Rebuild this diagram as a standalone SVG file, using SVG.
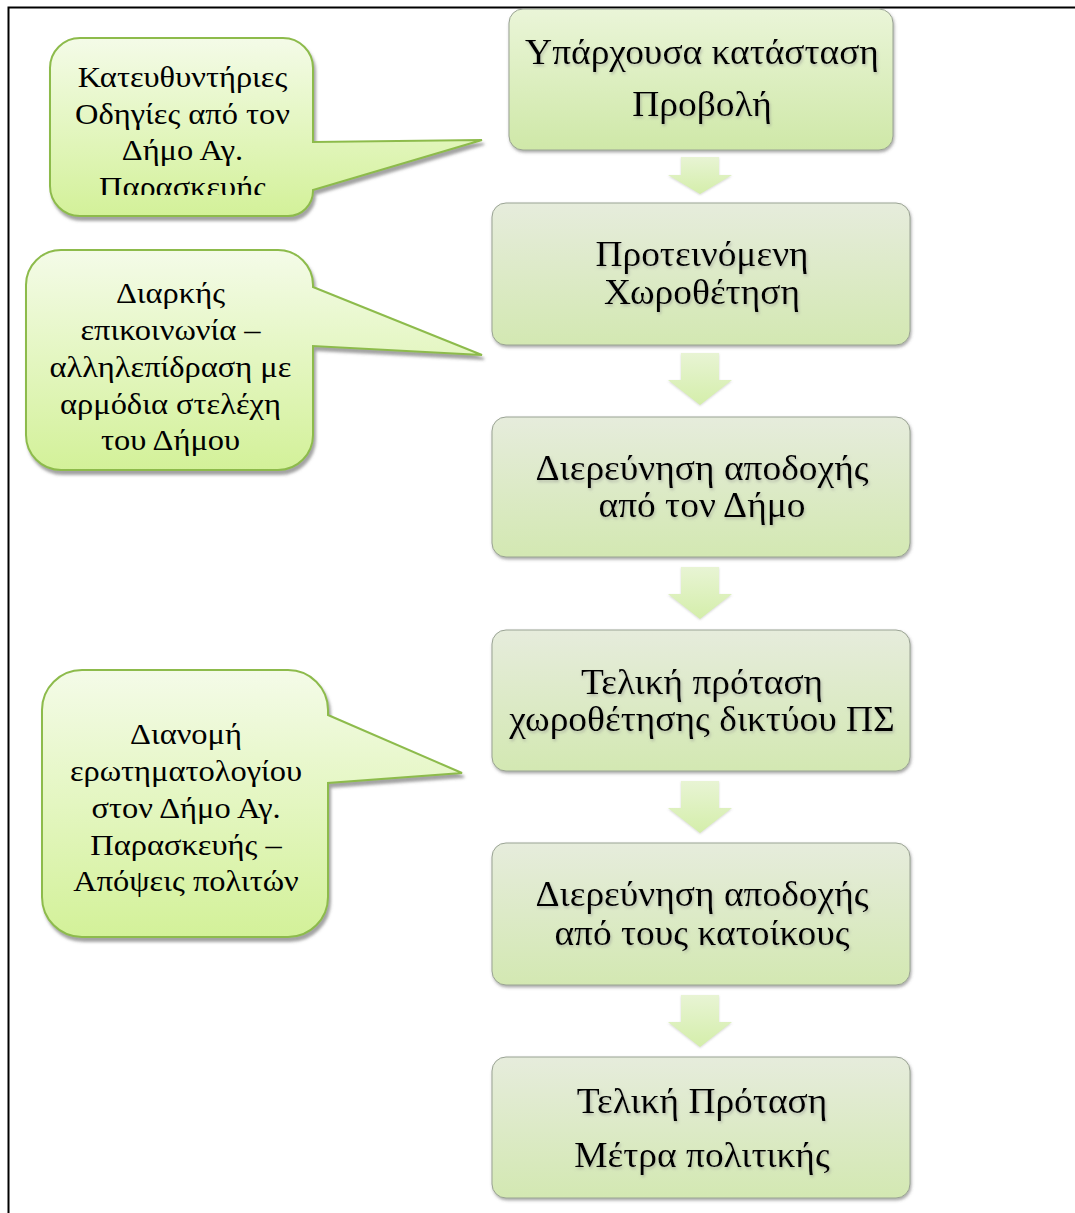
<svg xmlns="http://www.w3.org/2000/svg" width="1075" height="1213" viewBox="0 0 1075 1213">
<style>
.box{stroke:#9aa394;stroke-width:1;filter:url(#sh)}
.call{stroke:#8dbb4c;stroke-width:2;fill:url(#gc);filter:url(#sh2)}
.arr{fill:url(#ga);filter:url(#sh3)}
.bt{font-family:"Liberation Serif","Times New Roman",serif;font-size:35px;fill:#000;text-anchor:middle;filter:url(#ts)}
.ct{font-family:"Liberation Serif","Times New Roman",serif;font-size:29px;fill:#000;text-anchor:middle}
</style>
<defs>
<linearGradient id="gb1" x1="0" y1="0" x2="0" y2="1"><stop offset="0" stop-color="#eaf5d8"/><stop offset="1" stop-color="#cfe8a8"/></linearGradient>
<linearGradient id="gb" x1="0" y1="0" x2="0" y2="1"><stop offset="0" stop-color="#e6ecdc"/><stop offset="1" stop-color="#d3e8b2"/></linearGradient>
<linearGradient id="gc" x1="0" y1="0" x2="0" y2="1"><stop offset="0" stop-color="#f4fbe8"/><stop offset="1" stop-color="#d3f199"/></linearGradient>
<linearGradient id="ga" x1="0" y1="0" x2="0" y2="1"><stop offset="0" stop-color="#e8f4d4"/><stop offset="1" stop-color="#d4eeaa"/></linearGradient>
<filter id="sh" x="-5%" y="-10%" width="115%" height="125%"><feDropShadow dx="1" dy="2" stdDeviation="1.5" flood-color="#555" flood-opacity="0.5"/></filter>
<filter id="sh2" x="-5%" y="-5%" width="115%" height="120%"><feDropShadow dx="2" dy="4" stdDeviation="1.5" flood-color="#666" flood-opacity="0.6"/></filter>
<filter id="sh3" x="-10%" y="-10%" width="130%" height="130%"><feDropShadow dx="0" dy="1" stdDeviation="1" flood-color="#888" flood-opacity="0.35"/></filter>
<filter id="ts" x="-5%" y="-20%" width="110%" height="150%"><feDropShadow dx="1" dy="2" stdDeviation="1.5" flood-color="#888" flood-opacity="0.5"/></filter>
<clipPath id="c1"><rect x="50" y="38" width="263" height="157"/></clipPath>
</defs>
<rect width="1075" height="1213" fill="#fff"/>
<path d="M8.5,1213 V7.5 H1075" fill="none" stroke="#000" stroke-width="2"/>

<g id="connectors">
<path class="arr" d="M681,157 H719 V175 H732 L700,194 L668,175 H681 Z"/>
<path class="arr" d="M681,353 H719 V380 H732 L700,405 L668,380 H681 Z"/>
<path class="arr" d="M681,567 H719 V594 H732 L700,619 L668,594 H681 Z"/>
<path class="arr" d="M681,781 H719 V808 H732 L700,833 L668,808 H681 Z"/>
<path class="arr" d="M681,995 H719 V1022 H732 L700,1047 L668,1022 H681 Z"/>
</g>

<g id="box1">
<rect class="box" x="509" y="9" width="384" height="141" rx="14" fill="url(#gb1)"/>
<g transform="matrix(1.07,0,0,1,-49.1,0)">
<text class="bt" x="702" y="64">Υπάρχουσα κατάσταση</text>
<text class="bt" x="702" y="116">Προβολή</text>
</g>
</g>
<g id="box2">
<rect class="box" x="492" y="203" width="418" height="142" rx="14" fill="url(#gb)"/>
<g transform="matrix(1.07,0,0,1,-49.1,0)">
<text class="bt" x="702" y="266">Προτεινόμενη</text>
<text class="bt" x="702" y="304">Χωροθέτηση</text>
</g>
</g>
<g id="box3">
<rect class="box" x="492" y="417" width="418" height="140" rx="14" fill="url(#gb)"/>
<g transform="matrix(1.07,0,0,1,-49.1,0)">
<text class="bt" x="702" y="480">Διερεύνηση αποδοχής</text>
<text class="bt" x="702" y="517">από τον Δήμο</text>
</g>
</g>
<g id="box4">
<rect class="box" x="492" y="630" width="418" height="141" rx="14" fill="url(#gb)"/>
<g transform="matrix(1.07,0,0,1,-49.1,0)">
<text class="bt" x="702" y="694">Τελική πρόταση</text>
<text class="bt" x="702" y="731">χωροθέτησης δικτύου ΠΣ</text>
</g>
</g>
<g id="box5">
<rect class="box" x="492" y="843" width="418" height="142" rx="14" fill="url(#gb)"/>
<g transform="matrix(1.07,0,0,1,-49.1,0)">
<text class="bt" x="702" y="906">Διερεύνηση αποδοχής</text>
<text class="bt" x="702" y="945">από τους κατοίκους</text>
</g>
</g>
<g id="box6">
<rect class="box" x="492" y="1057" width="418" height="141" rx="14" fill="url(#gb)"/>
<g transform="matrix(1.07,0,0,1,-49.1,0)">
<text class="bt" x="702" y="1113">Τελική Πρόταση</text>
<text class="bt" x="702" y="1167">Μέτρα πολιτικής</text>
</g>
</g>

<g id="callout1">
<path class="call" d="M80,38 H283 A30,30 0 0 1 313,68 V142 L482,140 L313,190 V191 A25,25 0 0 1 288,216 H80 A30,30 0 0 1 50,186 V68 A30,30 0 0 1 80,38 Z"/>
<g clip-path="url(#c1)">
<g transform="matrix(1.12,0,0,1,-21.9,0)">
<text class="ct" x="182.5" y="87">Κατευθυντήριες</text>
<text class="ct" x="182.5" y="124">Οδηγίες από τον</text>
<text class="ct" x="182.5" y="160">Δήμο Αγ.</text>
<text class="ct" x="182.5" y="197">Παρασκευής</text>
</g>
</g>
</g>
<g id="callout2">
<path class="call" d="M61,250 H278 A35,35 0 0 1 313,285 V287 L482,355 L313,346 V435 A35,35 0 0 1 278,470 H61 A35,35 0 0 1 26,435 V285 A35,35 0 0 1 61,250 Z"/>
<g transform="matrix(1.12,0,0,1,-20.46,0)">
<text class="ct" x="170.5" y="303">Διαρκής</text>
<text class="ct" x="170.5" y="340">επικοινωνία –</text>
<text class="ct" x="170.5" y="377">αλληλεπίδραση με</text>
<text class="ct" x="170.5" y="414">αρμόδια στελέχη</text>
<text class="ct" x="170.5" y="450">του Δήμου</text>
</g>
</g>
<g id="callout3">
<path class="call" d="M82,670 H288 A40,40 0 0 1 328,710 V715 L462,773 L328,783 V897 A40,40 0 0 1 288,937 H82 A40,40 0 0 1 42,897 V710 A40,40 0 0 1 82,670 Z"/>
<g transform="matrix(1.12,0,0,1,-22.32,0)">
<text class="ct" x="186" y="744">Διανομή</text>
<text class="ct" x="186" y="781">ερωτηματολογίου</text>
<text class="ct" x="186" y="818">στον Δήμο Αγ.</text>
<text class="ct" x="186" y="855">Παρασκευής –</text>
<text class="ct" x="186" y="891">Απόψεις πολιτών</text>
</g>
</g>
</svg>
